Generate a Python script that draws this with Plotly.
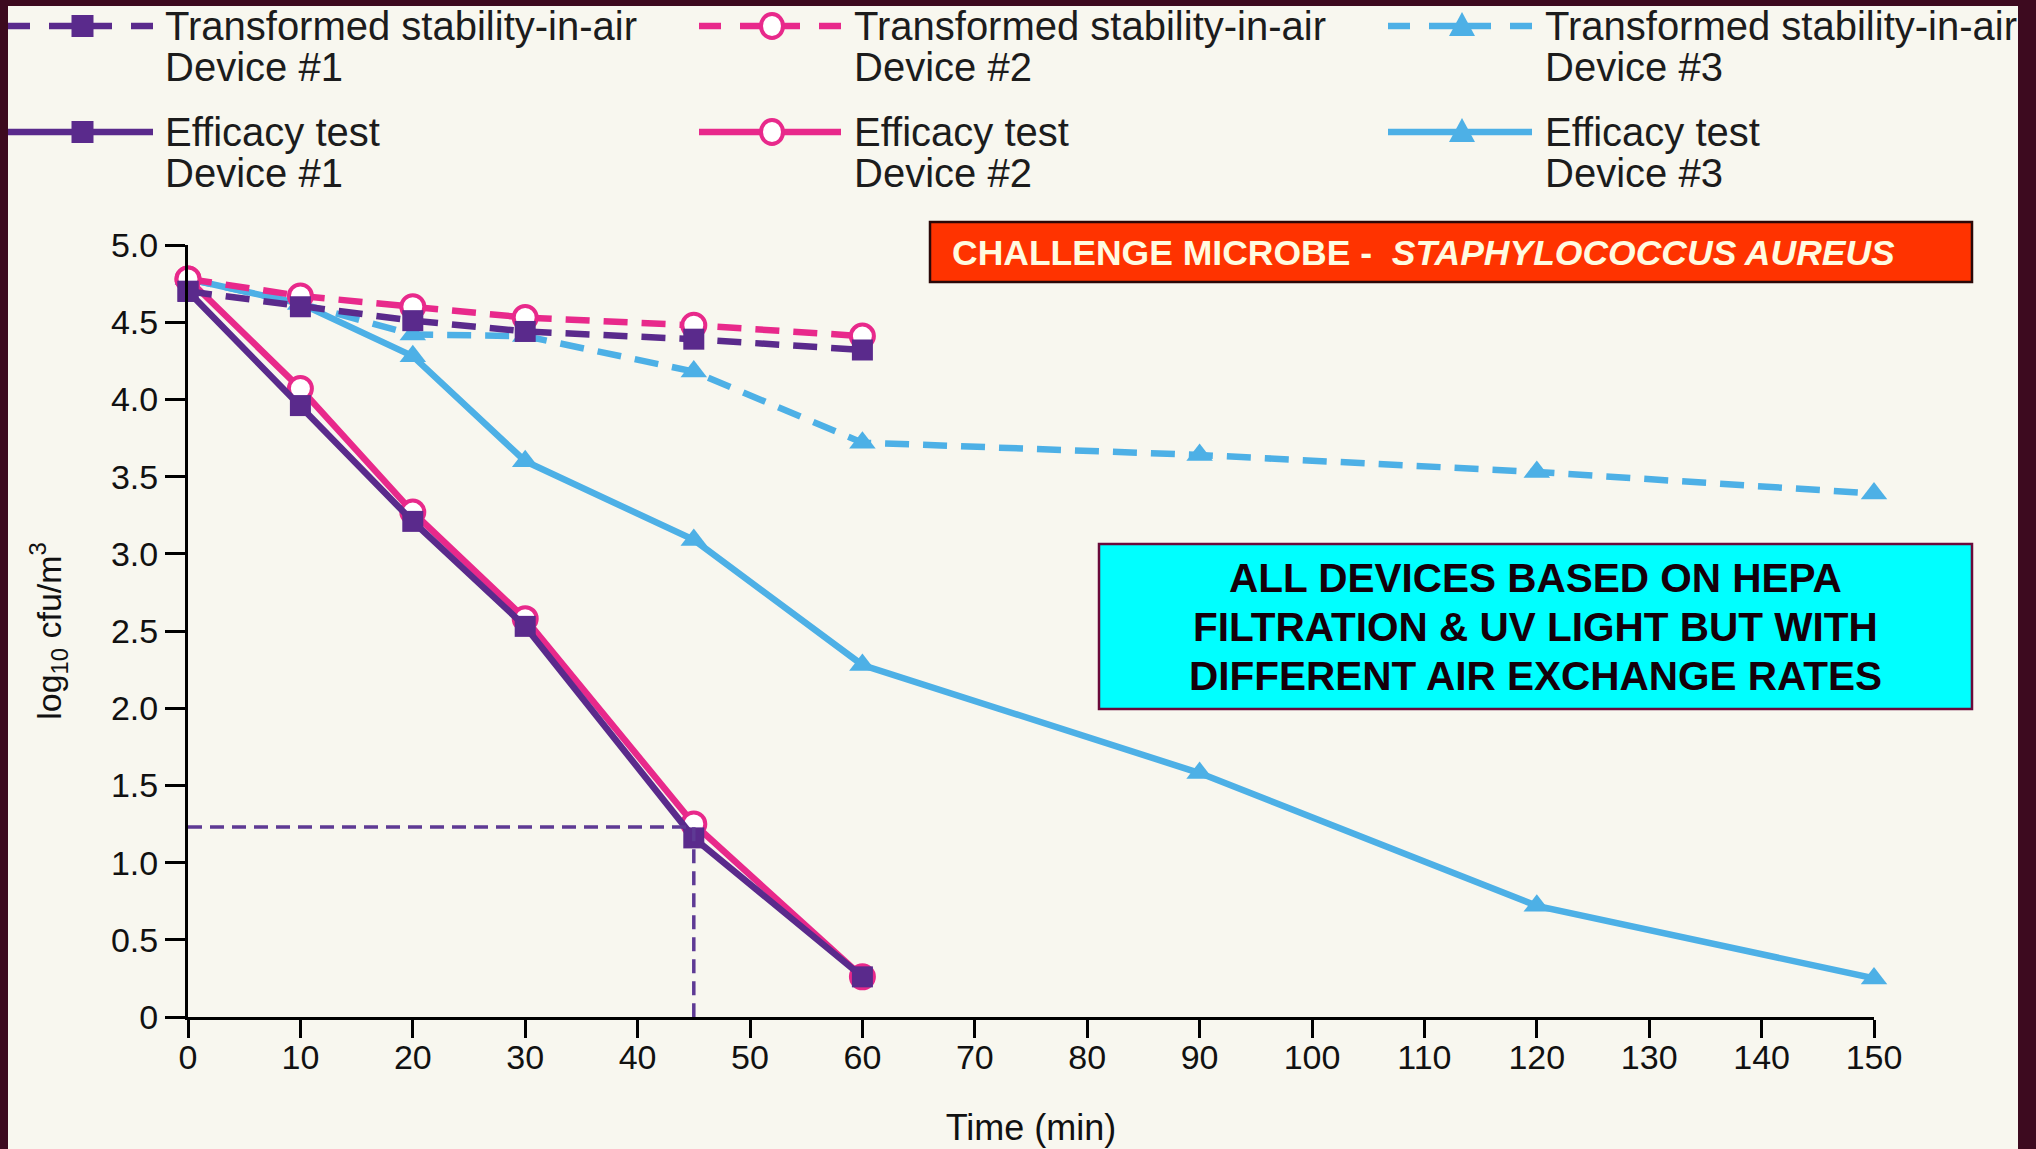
import plotly.graph_objects as go

# ---------------- data ----------------
time_eff12 = [0, 10, 20, 30, 45, 60]
eff_dev1 = [4.70, 3.96, 3.21, 2.53, 1.16, 0.26]
eff_dev2 = [4.78, 4.07, 3.27, 2.58, 1.25, 0.26]
stab_dev1 = [4.70, 4.60, 4.51, 4.44, 4.39, 4.32]
stab_dev2 = [4.78, 4.67, 4.60, 4.53, 4.48, 4.41]

time_dev3 = [0, 10, 20, 30, 45, 60, 90, 120, 150]
eff_dev3 = [4.78, 4.62, 4.28, 3.60, 3.09, 2.28, 1.58, 0.72, 0.25]
stab_dev3 = [4.78, 4.62, 4.42, 4.41, 4.18, 3.72, 3.64, 3.53, 3.39]

guide_x = [0, 45, 45]
guide_y = [1.23, 1.23, 0]

x_ticks = list(range(0, 151, 10))
y_ticks = [0, 0.5, 1.0, 1.5, 2.0, 2.5, 3.0, 3.5, 4.0, 4.5, 5.0]
y_ticktext = ["0", "0.5", "1.0", "1.5", "2.0", "2.5", "3.0", "3.5", "4.0", "4.5", "5.0"]

legend_names = [
    ("Transformed stability-in-air", "Device #1"),
    ("Transformed stability-in-air", "Device #2"),
    ("Transformed stability-in-air", "Device #3"),
    ("Efficacy test", "Device #1"),
    ("Efficacy test", "Device #2"),
    ("Efficacy test", "Device #3"),
]

# ---------------- style ----------------
W, H = 2036, 1149
ML, MR, MT, MB = 188, 162, 245, 132
PW, PH = W - ML - MR, H - MT - MB
PURPLE = "#5a2a8c"
PINK = "#e8298b"
BLUE = "#4db0e6"
CREAM = "#f8f7ef"
BG = "#3d0a1f"
FONT = "Liberation Sans, Arial, sans-serif"
DASH = "24px,14px"
LW = 6.5


def px(x):
    return (x - ML) / PW


def py(y):
    return (H - MB - y) / PH


fig = go.Figure()

fig.add_trace(go.Scatter(x=time_dev3, y=eff_dev3, mode="lines+markers", name="Efficacy test Device #3",
                         line=dict(color=BLUE, width=LW),
                         marker=dict(symbol="triangle-up", size=23, color=BLUE), cliponaxis=False))
fig.add_trace(go.Scatter(x=time_dev3, y=stab_dev3, mode="lines+markers", name="Transformed stability-in-air Device #3",
                         line=dict(color=BLUE, width=LW, dash=DASH),
                         marker=dict(symbol="triangle-up", size=23, color=BLUE), cliponaxis=False))
fig.add_trace(go.Scatter(x=time_eff12, y=stab_dev2, mode="lines+markers", name="Transformed stability-in-air Device #2",
                         line=dict(color=PINK, width=LW, dash=DASH),
                         marker=dict(symbol="circle", size=23, color="white", line=dict(color=PINK, width=4)),
                         cliponaxis=False))
fig.add_trace(go.Scatter(x=time_eff12, y=eff_dev2, mode="lines+markers", name="Efficacy test Device #2",
                         line=dict(color=PINK, width=LW),
                         marker=dict(symbol="circle", size=23, color="white", line=dict(color=PINK, width=4)),
                         cliponaxis=False))
fig.add_trace(go.Scatter(x=time_eff12, y=stab_dev1, mode="lines+markers", name="Transformed stability-in-air Device #1",
                         line=dict(color=PURPLE, width=LW, dash=DASH),
                         marker=dict(symbol="square", size=21, color=PURPLE), cliponaxis=False))
fig.add_trace(go.Scatter(x=time_eff12, y=eff_dev1, mode="lines+markers", name="Efficacy test Device #1",
                         line=dict(color=PURPLE, width=LW),
                         marker=dict(symbol="square", size=21, color=PURPLE), cliponaxis=False))
fig.add_trace(go.Scatter(x=guide_x, y=guide_y, mode="lines", name="guide",
                         line=dict(color="#5e3a94", width=3.5, dash="14px,8px"), cliponaxis=False))

shapes = []
annotations = []

# cream panel
shapes.append(dict(type="rect", xref="paper", yref="paper", layer="below",
                   x0=px(8), x1=px(2018), y0=py(H + 5), y1=py(6),
                   fillcolor=CREAM, line=dict(width=0)))

# ---------------- manual legend ----------------
col_line = [(8, 153), (699, 841), (1388, 1532)]
col_text = [163, 852, 1543]
row_y = [26, 132]
row_gap = 41
colors = [PURPLE, PINK, BLUE]
symbols = ["square", "circle", "triangle"]

for i, (l1, l2) in enumerate(legend_names):
    r, c = divmod(i, 3)
    x0, x1 = col_line[c]
    yy = row_y[r]
    color = colors[c]
    mx = (x0 + x1) / 2 + 2
    if r == 0:
        segs = [(x0, x0 + 22), (x0 + 41, x1 - 41), (x1 - 22, x1)]
    else:
        segs = [(x0, x1)]
    for a, b in segs:
        shapes.append(dict(type="line", xref="paper", yref="paper", x0=px(a), x1=px(b), y0=py(yy), y1=py(yy),
                           line=dict(color=color, width=LW)))
    s = 11
    if symbols[c] == "square":
        shapes.append(dict(type="rect", xref="paper", yref="paper", x0=px(mx - s), x1=px(mx + s),
                           y0=py(yy + s), y1=py(yy - s), fillcolor=color, line=dict(width=0)))
    elif symbols[c] == "circle":
        shapes.append(dict(type="circle", xref="paper", yref="paper", x0=px(mx - 11), x1=px(mx + 11),
                           y0=py(yy + 12), y1=py(yy - 12), fillcolor="white", line=dict(color=color, width=4)))
    else:
        path = "M {} {} L {} {} L {} {} Z".format(px(mx - 13), py(yy + 10), px(mx + 13), py(yy + 10),
                                                  px(mx), py(yy - 14))
        shapes.append(dict(type="path", xref="paper", yref="paper", path=path, fillcolor=color,
                           line=dict(width=0)))
    for k, txt in enumerate([l1, l2]):
        annotations.append(dict(xref="paper", yref="paper", x=px(col_text[c]), y=py(yy + k * row_gap),
                                xanchor="left", yanchor="middle", showarrow=False, text=txt,
                                font=dict(family=FONT, size=40, color="#1c1c1c")))

# ---------------- boxes ----------------
shapes.append(dict(type="rect", xref="paper", yref="paper", x0=px(930), x1=px(1972), y0=py(282), y1=py(222),
                   fillcolor="#ff3300", line=dict(color="#2a0808", width=2.5)))
annotations.append(dict(xref="paper", yref="paper", x=px(950), y=py(253), xanchor="left", yanchor="middle",
                        showarrow=False,
                        text="<b>CHALLENGE MICROBE - \u00a0<i>STAPHYLOCOCCUS AUREUS</i></b>",
                        font=dict(family=FONT, size=35.5, color="#fffbe0")))

shapes.append(dict(type="rect", xref="paper", yref="paper", x0=px(1099), x1=px(1972), y0=py(709), y1=py(544),
                   fillcolor="#00ffff", line=dict(color="#6a0a3a", width=2.5)))
box_lines = ["ALL DEVICES BASED ON HEPA", "FILTRATION & UV LIGHT BUT WITH", "DIFFERENT AIR EXCHANGE RATES"]
for k, txt in enumerate(box_lines):
    annotations.append(dict(xref="paper", yref="paper", x=px(1535), y=py(578 + 49 * k), xanchor="center",
                            yanchor="middle", showarrow=False, text="<b>" + txt + "</b>",
                            font=dict(family=FONT, size=40.5, color="#14000a")))

fig.update_layout(
    width=W, height=H,
    margin=dict(l=ML, r=MR, t=MT, b=MB, pad=0, autoexpand=False),
    paper_bgcolor=BG,
    plot_bgcolor="rgba(0,0,0,0)",
    showlegend=False,
    shapes=shapes,
    annotations=annotations,
    font=dict(family=FONT, color="#111111"),
)
fig.update_xaxes(range=[0, 150], tickvals=x_ticks, showgrid=False, zeroline=False, automargin=False,
                 showline=True, linecolor="black", linewidth=3,
                 ticks="outside", ticklen=18, tickwidth=3, tickcolor="black", ticklabelstandoff=-10,
                 tickfont=dict(family=FONT, size=34, color="#111111"),
                 title=dict(text="Time (min)", font=dict(family=FONT, size=36, color="#111111"), standoff=41))
fig.update_yaxes(range=[0, 5], tickvals=y_ticks, ticktext=y_ticktext, showgrid=False, zeroline=False,
                 automargin=False,
                 showline=True, linecolor="black", linewidth=3,
                 ticks="outside", ticklen=20, tickwidth=3, tickcolor="black",
                 tickfont=dict(family=FONT, size=34, color="#111111"),
                 title=dict(text="log<sub>10</sub> cfu/m<sup>3</sup>", font=dict(family=FONT, size=34, color="#111111"),
                            standoff=40))

fig.write_html("out.html", config={"displayModeBar": False},
               post_script="document.body.style.margin='0';document.body.style.background='%s';" % BG)
